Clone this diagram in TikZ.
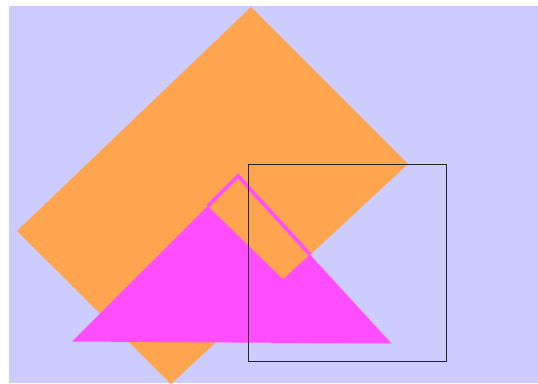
\documentclass[tikz,border=0pt]{standalone}
\usetikzlibrary{calc}
\definecolor{lav}{RGB}{204,204,255}
\definecolor{org}{RGB}{255,165,79}
\definecolor{mag}{RGB}{255,77,255}
\begin{document}
\begin{tikzpicture}[x=1pt,y=-1pt,
  magfill/.style={fill=mag},
  orgfill/.style={fill=org},
  framebox/.style={draw=black!85,line width=1pt}]
\useasboundingbox (0,0) rectangle (538,383);
\fill[white] (0,0) rectangle (538,383);
\fill[lav] (9,6) rectangle (538,383);
% orange rotated rectangle
\coordinate (T) at (251,7);
\coordinate (R) at (408,164);
\coordinate (B) at (171,384);
\coordinate (L) at (17,231);
\fill[orgfill] (T) -- (R) -- (B) -- (L) -- cycle;
% magenta triangle
\coordinate (A) at (238,176);
\coordinate (TL) at (72,341.5);
\coordinate (TR) at (391.5,343.5);
\fill[magfill] (A) -- (TR) -- (TL) -- cycle;
% orange region inside triangle near apex
\coordinate (P1) at (207.4,205.5);
\coordinate (P2) at (283,279);
\coordinate (P3) at (310,254.5);
\fill[orgfill] (A) -- (P1) -- (P2) -- (P3) -- cycle;
% magenta stroke along upper edges, clipped to the orange notch
\begin{scope}
  \clip (238,160) -- (196.4,194.5) -- (P1) -- (P2) -- (P3) -- (318,247.5) -- cycle;
  \draw[mag,line width=3.5pt,line join=miter] ($(A)!0.3!(TL)$) -- (A) -- ($(A)!0.6!(TR)$);
\end{scope}
% black square
\coordinate (S1) at (248,164);
\coordinate (S2) at (446,361.5);
\draw[framebox] (S1) rectangle (S2);
\end{tikzpicture}
\end{document}
